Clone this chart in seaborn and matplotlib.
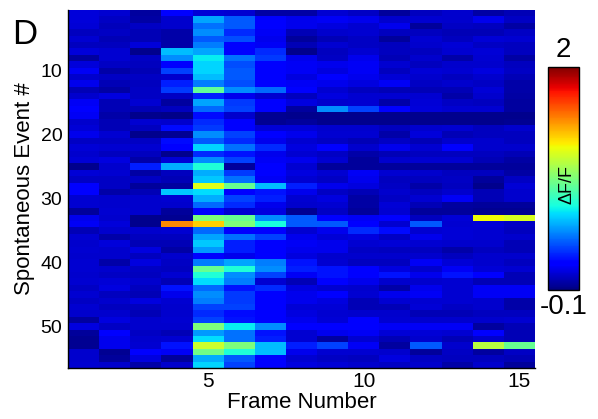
import numpy as np
import pandas as pd
import matplotlib
matplotlib.use("Agg")
import matplotlib.pyplot as plt
import seaborn as sns

sns.set_style("white")
plt.rcParams['font.family'] = ['Liberation Sans', 'DejaVu Sans']
plt.rcParams['text.color'] = 'black'
plt.rcParams['axes.labelcolor'] = 'black'
plt.rcParams['xtick.color'] = 'black'
plt.rcParams['ytick.color'] = 'black'

frames = list(range(1, 16))
events = list(range(1, 57))

f1 = [0.07,0.07,0.06,0.02,0.05,0.02,0.07,-0.04,0.07,0.12, 0.04,0.1,0.0,0.04,0.12,0.13,0.12,0.04,0.06,0.1,
      0.03,0.06,0.04,0.06,-0.07,0.06,0.03,0.13,
      0.13,0.05,0.05,-0.05,0.1,0.12,0.0,0.05,0.04,0.05, 0.04,0.05,0.05,0.04,0.05,0.03,0.05,0.03,0.05,0.04,
      -0.04,0.08,-0.05,-0.06,-0.06,0.04,0.04,0.05]
f2 = [0.05,0.03,0.01,0.03,0.0,0.02,0.05,0.05,0.03,-0.02, 0.03,0.0,-0.03,0.08,0.0,0.0,-0.02,0.0,0.0,0.05,
      0.03,0.05,0.02,0.08,0.04,0.05,0.03,0.03,
      -0.02,0.04,0.04,0.05,0.04,0.07,0.04,-0.02,0.07,0.04, 0.04,-0.02,0.04,0.03,0.06,0.08,0.02,0.04,0.02,0.04,
      0.08,0.03,0.13,0.1,0.1,-0.06,-0.05,0.04]
f3 = [-0.04,-0.03,0.03,0.0,0.0,0.07,-0.07,0.03,0.02,0.0, 0.03,0.02,0.03,0.03,0.05,0.0,-0.07,0.05,0.02,-0.07,
      0.03,0.05,0.02,-0.02,0.22,-0.03,0.03,-0.05,
      0.0,0.04,0.04,0.04,-0.07,-0.07,0.04,0.02,0.0,0.08, 0.02,0.08,0.03,0.02,0.04,0.02,0.0,0.08,0.02,0.0,
      0.04,0.04,0.03,0.04,0.05,0.14,0.08,-0.02]
f4 = [0.13,0.04,0.04,-0.02,-0.02,-0.02,0.55,0.45,0.13,0.3, 0.04,0.22,0.28,0.03,-0.04,0.02,-0.08,0.04,0.18,-0.06,
      0.18,0.14,-0.07,0.06,0.52,0.02,0.0,-0.04,
      0.58,0.05,0.04,-0.05,-0.06,1.5,0.05,0.02,0.0,-0.03, 0.04,0.03,0.02,0.05,0.0,0.2,0.1,0.05,0.04,0.04,
      0.05,0.04,0.0,0.05,0.2,0.12,-0.05,0.04]
f5 = [0.06,0.5,0.4,0.45,0.35,0.42,0.5,0.65,0.6,0.6, 0.55,0.42,0.88,0.22,0.5,0.38,0.18,0.25,0.28,0.45,
      0.35,0.6,0.25,0.45,0.72,0.52,0.58,1.2,
      0.62,0.52,0.38,0.15,0.95,1.35,0.38,0.5,0.58,0.48, 0.15,0.42,0.9,0.72,0.62,0.38,0.45,0.42,0.3,0.25,
      0.3,0.95,0.48,0.62,1.15,0.92,0.52,0.6]
f6 = [0.05,0.35,0.35,0.25,0.32,0.15,0.15,0.4,0.32,0.35, 0.35,0.32,0.45,0.1,0.28,0.3,0.04,0.15,0.15,0.3,
      0.25,0.4,0.2,0.3,-0.05,0.28,0.4,0.9,
      0.15,0.3,0.25,0.05,0.9,0.95,0.15,0.4,0.22,0.22, 0.1,0.5,0.72,0.45,0.42,0.2,0.28,0.28,0.3,0.18,
      0.2,0.65,0.4,0.4,0.95,0.72,0.35,0.3]
f7 = [-0.03,0.14,0.14,0.12,0.1,0.12,0.25,0.28,0.14,0.14, 0.14,0.14,0.38,0.05,0.14,0.14,-0.06,-0.06,0.06,0.14,
      0.1,0.25,0.1,0.12,0.14,0.14,0.12,0.55,
      0.2,0.22,0.1,0.08,0.45,0.7,0.14,0.3,0.14,0.14, 0.14,0.42,0.45,0.3,0.05,0.25,0.15,0.14,0.14,0.14,
      0.14,0.45,0.2,0.22,0.55,0.55,0.14,0.14]
f8 = [-0.03,0.1,0.1,0.0,-0.05,0.0,-0.07,0.1,0.12,0.12, 0.08,0.12,0.14,0.02,0.08,-0.04,-0.07,-0.05,0.06,0.1,
      0.05,0.08,0.05,0.1,0.05,0.08,0.05,0.22,
      0.1,0.05,0.04,-0.06,0.35,0.35,0.05,0.1,0.12,0.1, 0.08,0.2,0.22,0.12,0.0,0.08,0.1,0.1,0.06,0.08,
      0.1,0.14,0.05,0.05,0.22,0.1,0.05,0.08]
f9 = [0.05,0.12,0.08,0.04,0.0,0.05,0.02,0.03,0.1,0.08, 0.14,0.1,0.05,0.08,0.04,0.45,-0.07,-0.07,0.04,0.05,
      0.03,0.14,0.03,0.05,-0.05,0.05,0.03,0.1,
      0.03,0.08,0.05,0.03,0.14,0.35,0.1,0.06,0.1,0.1, 0.04,0.05,0.2,0.2,0.16,0.05,0.14,0.08,0.06,0.05,
      0.06,0.14,0.1,-0.04,0.3,0.05,0.03,0.06]
f10 = [0.03,0.1,0.05,0.05,0.03,0.03,0.05,0.1,0.12,0.12, 0.1,0.08,0.02,0.05,0.05,0.3,-0.07,-0.07,0.04,0.05,
       0.0,0.04,-0.02,-0.05,-0.05,0.12,0.1,0.08,
       0.0,-0.03,-0.03,-0.05,0.12,0.14,0.25,0.08,0.05,0.03, 0.04,0.02,0.14,0.14,0.1,0.04,0.05,0.0,0.0,0.04,
       0.14,0.14,0.12,0.05,0.12,0.05,0.02,0.04]
f11 = [-0.05,0.04,0.1,0.02,-0.05,0.02,0.02,0.0,0.05,0.02, 0.06,0.12,0.0,0.05,-0.02,0.14,-0.07,-0.07,0.02,-0.02,
       0.03,0.1,0.0,0.04,-0.05,0.05,0.02,0.03,
       0.04,0.03,0.06,0.05,0.14,0.05,0.18,0.03,0.06,0.02, 0.04,0.02,0.08,0.2,0.04,-0.02,0.1,0.05,0.0,0.04,
       0.05,0.12,0.06,0.0,-0.04,0.04,0.08,0.03]
f12 = [0.02,0.05,-0.05,0.02,0.05,0.04,0.02,0.04,0.02,0.06, 0.04,0.03,0.0,0.05,0.06,0.07,-0.07,-0.07,0.04,0.07,
       0.0,0.05,0.02,0.05,-0.05,0.04,0.02,-0.02,
       0.02,0.05,0.0,-0.05,0.02,0.35,0.05,0.1,0.05,0.02, 0.04,0.12,0.04,0.1,0.04,0.1,0.12,0.05,0.06,0.0,
       0.04,0.12,0.06,0.04,0.35,-0.05,0.03,0.04]
f13 = [0.04,0.04,0.03,0.0,0.02,0.06,0.05,-0.02,0.04,0.05, 0.02,0.04,0.0,-0.02,0.03,0.05,-0.07,-0.07,0.05,0.0,
       0.04,0.14,0.02,0.05,-0.05,0.02,0.03,0.02,
       0.04,0.12,-0.04,-0.05,0.06,0.05,0.06,0.06,0.04,-0.02, 0.02,0.06,0.12,0.2,0.05,0.05,0.05,0.05,0.03,0.0,
       0.04,0.12,0.05,0.0,0.04,0.03,0.02,-0.02]
f14 = [-0.03,0.1,0.02,0.0,0.06,0.03,0.06,0.05,0.04,0.08, 0.04,0.03,0.06,0.04,0.02,0.05,-0.07,-0.07,0.02,0.02,
       0.04,0.04,0.02,0.0,-0.05,0.02,-0.05,-0.07,
       0.0,0.0,-0.05,-0.06,1.25,0.06,0.05,0.05,0.04,0.02, 0.04,0.04,0.06,0.14,0.0,0.12,0.12,0.04,0.04,0.02,
       0.04,-0.04,0.14,0.04,1.1,-0.04,0.02,0.04]
f15 = [0.0,0.03,-0.03,0.03,0.05,0.02,0.02,-0.03,0.02,0.03, 0.0,-0.02,-0.02,-0.03,-0.04,-0.04,-0.07,-0.06,0.04,0.02,
       0.02,0.04,0.0,-0.03,-0.05,-0.03,0.03,0.06,
       0.04,0.04,-0.05,-0.06,1.18,0.03,0.02,0.04,0.0,0.0, 0.04,0.02,0.05,0.0,0.0,0.12,0.12,-0.02,-0.02,0.02,
       0.05,0.0,0.0,0.0,0.9,0.03,0.0,-0.05]

columns = [f1, f2, f3, f4, f5, f6, f7, f8, f9, f10, f11, f12, f13, f14, f15]
df = pd.DataFrame(np.array(columns).T, index=events, columns=frames)

vmin, vmax = -0.1, 2.0
xtick_vals = [5, 10, 15]
ytick_vals = [10, 20, 30, 40, 50]

W, H = 598, 419
fig = plt.figure(figsize=(W / 100, H / 100), dpi=100)
ax = fig.add_axes([68 / W, 1 - 368 / H, (535 - 68) / W, (368 - 10) / H])
cax = fig.add_axes([548 / W, 1 - 290 / H, 31 / W, (290 - 67) / H])

sns.heatmap(df, ax=ax, cbar_ax=cax, cmap="jet", vmin=vmin, vmax=vmax,
            linewidths=0, xticklabels=False, yticklabels=False)

ax.set_xticks([frames.index(v) + 0.5 for v in xtick_vals])
ax.set_xticklabels([str(v) for v in xtick_vals], fontsize=15, rotation=0)
ax.set_yticks([events.index(v) + 0.5 for v in ytick_vals])
ax.set_yticklabels([str(v) for v in ytick_vals], fontsize=14, rotation=0)
ax.tick_params(axis='both', direction='in', length=5, width=1, color='black',
               bottom=True, left=True, top=False, right=False)
ax.tick_params(axis='x', pad=3)
ax.tick_params(axis='y', pad=4)
for s in ['left', 'bottom']:
    ax.spines[s].set_visible(True)
    ax.spines[s].set_color('black')
    ax.spines[s].set_linewidth(1.0)
for s in ['top', 'right']:
    ax.spines[s].set_visible(False)

ax.set_xlabel("Frame Number", fontsize=16)
ax.xaxis.set_label_coords(0.5, -(402 - 368) / 358)
ax.xaxis.label.set_va('center')
ax.set_ylabel("Spontaneous Event #", fontsize=16)
ax.yaxis.set_label_coords(-(68 - 25) / 467, 0.5)
ax.yaxis.label.set_va('center')

fig.text(12 / W, 1 - 35 / H, "D", fontsize=25, va='center', ha='left')

# colorbar styling
cb = ax.collections[0].colorbar
cb.outline.set_edgecolor('black')
cb.outline.set_linewidth(1.0)
step = (vmax - vmin) * 25 / 223
cb.set_ticks([vmax - k * step for k in range(1, 9)])
cax.tick_params(axis='y', direction='in', length=4, width=0.8, left=True, right=True,
                labelleft=False, labelright=False, color='black')
cax.text(0.5, 1.02, "2", transform=cax.transAxes, ha='center', va='bottom', fontsize=20)
cax.text(0.5, -0.02, "-0.1", transform=cax.transAxes, ha='center', va='top', fontsize=20)
cax.text(0.62, 0.475, "ΔF/F", transform=cax.transAxes, ha='center', va='center',
         rotation=90, fontsize=13, color='black')

fig.savefig("out.png", dpi=100)
